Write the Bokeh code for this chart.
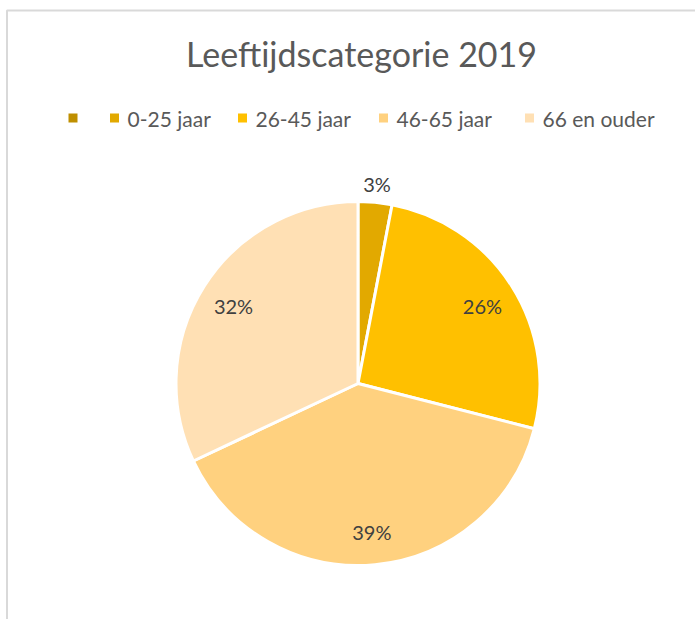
import numpy as np
from bokeh.plotting import figure
from bokeh.models import Range1d
from bokeh.core.properties import value
from bokeh.embed import file_html
from bokeh.resources import INLINE

# ---- data ----
categories = ["", "0-25 jaar", "26-45 jaar", "46-65 jaar", "66 en ouder"]
shares = [0, 3, 26, 39, 32]
colors = ["#BF8F00", "#E2A900", "#FFC000", "#FFD17F", "#FFE0B4"]
title_text = "Leeftijdscategorie 2019"

FONT = "Lato"
W, H = 695, 619


def sy(s):
    """screen y (as in the reference image) -> data y"""
    return 621 - s


p = figure(width=W, height=H, x_range=Range1d(0, W), y_range=Range1d(sy(H), sy(0)),
           output_backend="svg", toolbar_location=None, min_border=0)
p.axis.visible = False
p.grid.visible = False
p.outline_line_color = None
p.background_fill_color = "white"

# chart frame (light gray border)
p.line(x=[6.5, 6.5, W], y=[sy(H), sy(10), sy(10)], line_color="#D9D9D9", line_width=2)

# title
p.text(x=[361], y=[sy(53)], text=[title_text], text_font=value(FONT), text_font_size="34px",
       text_color="#595959", text_align="center", text_baseline="middle")

# pie
cx, cy, R = 357.5, sy(383), 182
vals = np.array(shares, dtype=float)
frac = vals / vals.sum()
cum_end = np.cumsum(frac)
cum_start = cum_end - frac
start = np.pi / 2 - 2 * np.pi * cum_end
end = np.pi / 2 - 2 * np.pi * cum_start
keep = vals > 0
p.wedge(x=cx, y=cy, radius=R, start_angle=start[keep], end_angle=end[keep],
        fill_color=[c for c, k in zip(colors, keep) if k], line_color="white", line_width=3)

# data labels
mid = (start + end) / 2
lab_r = np.where(frac < 0.05, 1.11, 0.81) * R
lx = cx + lab_r * np.cos(mid)
ly = cy + lab_r * np.sin(mid) - 1.5
labels = [f"{int(round(v))}%" for v in vals]
p.text(x=lx[keep], y=ly[keep], text=[l for l, k in zip(labels, keep) if k], text_font=value(FONT),
       text_font_size="20px", text_color="#404040", text_align="center", text_baseline="middle")

# legend
leg_x = [72.5, 114, 242, 383, 529]
leg_y = sy(117.5)
p.scatter(x=leg_x, y=[leg_y] * len(leg_x), marker="square", size=9, fill_color=colors, line_color=None)
p.text(x=[x + 13 for x in leg_x], y=[leg_y] * len(leg_x), text=categories, text_font=value(FONT),
       text_font_size="21px", text_color="#595959", text_align="left", text_baseline="middle")

open("out.html", "w").write(file_html(p, INLINE))
